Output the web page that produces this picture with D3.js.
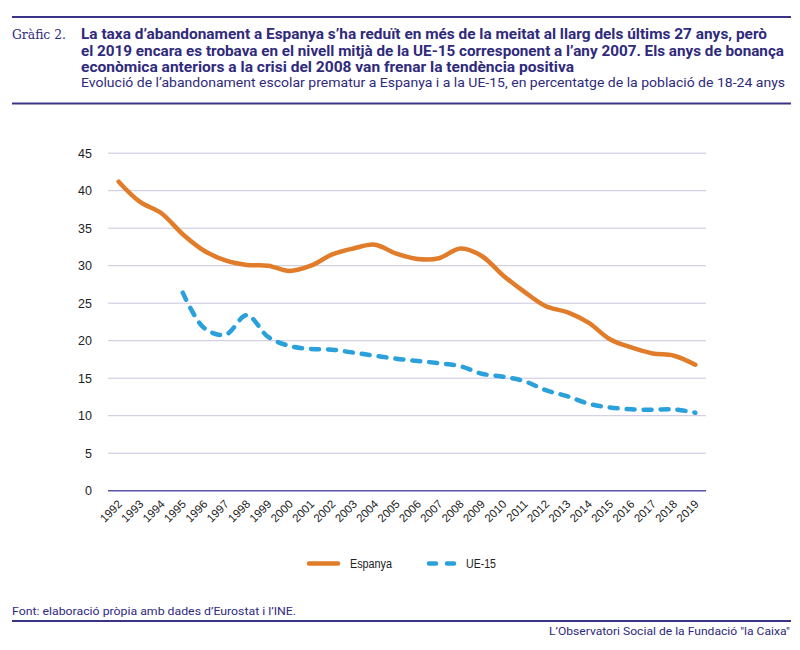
<!DOCTYPE html>
<html><head><meta charset="utf-8">
<script src="https://cdn.jsdelivr.net/npm/d3@7"></script>
<style>body{margin:0;background:#fff}svg{display:block}</style>
</head><body>
<svg id="c" width="800" height="650"></svg>
<script>
const years = [1992,1993,1994,1995,1996,1997,1998,1999,2000,2001,2002,2003,2004,2005,2006,2007,2008,2009,2010,2011,2012,2013,2014,2015,2016,2017,2018,2019];
const espanya = [41.2,38.5,37.0,34.2,32.0,30.7,30.1,30.0,29.3,30.0,31.5,32.3,32.8,31.6,30.9,31.0,32.3,31.3,28.7,26.5,24.6,23.8,22.4,20.2,19.1,18.3,18.0,16.8];
const ue15 = [null,null,null,26.4,21.7,20.8,23.4,20.5,19.3,18.9,18.8,18.4,18.0,17.6,17.3,17.0,16.6,15.6,15.2,14.6,13.4,12.6,11.6,11.1,10.85,10.8,10.85,10.4];
const yTicks = [0,5,10,15,20,25,30,35,40,45];
const seriesNames = ["Espanya","UE-15"];
const colors = ["#E17D2A","#2AA1DB"];

const svg = d3.select("#c");
const navy = "#2F2A7C";

// header
svg.append("line").attr("x1",12).attr("x2",791).attr("y1",17).attr("y2",17).attr("stroke","#3B3486").attr("stroke-width",2);
svg.append("line").attr("x1",12).attr("x2",791).attr("y1",103.5).attr("y2",103.5).attr("stroke","#3B3486").attr("stroke-width",2);
svg.append("text").attr("x",12).attr("y",39).attr("font-family","DejaVu Serif, serif").attr("font-size",13.5)
  .attr("fill",navy).attr("textLength",54).attr("lengthAdjust","spacingAndGlyphs").text("Gràfic 2.");
const titleLines = [
  ["La taxa d’abandonament a Espanya s’ha reduït en més de la meitat al llarg dels últims 27 anys, però",39.3,686],
  ["el 2019 encara es trobava en el nivell mitjà de la UE-15 corresponent a l’any 2007. Els anys de bonança",55.5,703],
  ["econòmica anteriors a la crisi del 2008 van frenar la tendència positiva",71.8,493]
];
titleLines.forEach(([t,y,w])=>{
  svg.append("text").attr("x",81).attr("y",y).attr("font-family","Roboto, sans-serif").attr("font-weight","bold")
    .attr("font-size",14).attr("fill",navy).attr("textLength",w).attr("lengthAdjust","spacingAndGlyphs").text(t);
});
svg.append("text").attr("x",81).attr("y",87).attr("font-family","Roboto, sans-serif")
  .attr("font-size",13.5).attr("fill",navy).attr("textLength",704).attr("lengthAdjust","spacingAndGlyphs")
  .text("Evolució de l’abandonament escolar prematur a Espanya i a la UE-15, en percentatge de la població de 18-24 anys");

// scales
const x = d3.scaleBand().domain(years).range([108,706]);
const cx = d => x(d) + x.bandwidth()/2;
const y = d3.scaleLinear().domain([0,45]).range([490.7,153.2]);

// grid
svg.append("g").selectAll("line").data(yTicks.filter(d=>d>0)).join("line")
  .attr("x1",108).attr("x2",706).attr("y1",d=>y(d)).attr("y2",d=>y(d))
  .attr("stroke","#C9C6DE").attr("stroke-width",1);
svg.append("line").attr("x1",108).attr("x2",706).attr("y1",y(0)).attr("y2",y(0)).attr("stroke","#5B56AA").attr("stroke-width",1.5);

// y axis labels
const yAxis = d3.axisLeft(y).tickValues(yTicks).tickSize(0).tickPadding(0);
const gy = svg.append("g").attr("transform","translate(92,0)").call(yAxis);
gy.select(".domain").remove();
gy.selectAll("text").attr("font-family","Liberation Sans, Arial, sans-serif").attr("font-size",12.5).attr("fill","#222");

// x axis labels
const xAxis = d3.axisBottom(x).tickSize(0).tickPadding(0);
const gx = svg.append("g").attr("transform",`translate(0,${y(0)})`).call(xAxis);
gx.select(".domain").remove();
gx.selectAll(".tick text").attr("font-family","Liberation Sans, Arial, sans-serif").attr("font-size",11.5).attr("fill","#222")
  .attr("text-anchor","end").attr("dy",null).attr("y",0)
  .attr("transform","translate(2,12) rotate(-45)").attr("dominant-baseline","middle");

// lines
const line = d3.line().defined(d=>d[1]!=null).x(d=>cx(d[0])).y(d=>y(d[1])).curve(d3.curveCatmullRom.alpha(0.5));
svg.append("path").datum(years.map((yr,i)=>[yr,espanya[i]])).attr("d",line)
  .attr("fill","none").attr("stroke",colors[0]).attr("stroke-width",4.5).attr("stroke-linecap","round");
svg.append("path").datum(years.map((yr,i)=>[yr,ue15[i]]).filter(d=>d[1]!=null)).attr("d",line)
  .attr("fill","none").attr("stroke",colors[1]).attr("stroke-width",4.5).attr("stroke-linecap","round")
  .attr("stroke-dasharray","8,9");

// legend
const lg = svg.append("g");
lg.append("line").attr("x1",309).attr("x2",338).attr("y1",563.5).attr("y2",563.5).attr("stroke",colors[0]).attr("stroke-width",4.5).attr("stroke-linecap","round");
lg.append("text").attr("x",350).attr("y",563.5).attr("dominant-baseline","central").attr("font-family","Liberation Sans, Arial, sans-serif")
  .attr("font-size",12).attr("fill","#222").attr("textLength",42).attr("lengthAdjust","spacingAndGlyphs").text(seriesNames[0]);
lg.append("line").attr("x1",429).attr("x2",454).attr("y1",563.5).attr("y2",563.5).attr("stroke",colors[1]).attr("stroke-width",4.5).attr("stroke-linecap","round").attr("stroke-dasharray","7,11");
lg.append("text").attr("x",466).attr("y",563.5).attr("dominant-baseline","central").attr("font-family","Liberation Sans, Arial, sans-serif")
  .attr("font-size",12).attr("fill","#222").attr("textLength",30).attr("lengthAdjust","spacingAndGlyphs").text(seriesNames[1]);

// footer
svg.append("text").attr("x",12).attr("y",615).attr("font-family","Roboto, sans-serif").attr("font-size",11.5).attr("fill",navy)
  .attr("textLength",284).attr("lengthAdjust","spacingAndGlyphs").text("Font: elaboració pròpia amb dades d’Eurostat i l’INE.");
svg.append("line").attr("x1",12).attr("x2",791).attr("y1",621).attr("y2",621).attr("stroke","#3B3486").attr("stroke-width",2);
svg.append("text").attr("x",790).attr("y",635).attr("text-anchor","end").attr("font-family","Roboto, sans-serif").attr("font-size",11.5).attr("fill",navy)
  .attr("textLength",241).attr("lengthAdjust","spacingAndGlyphs").text("L’Observatori Social de la Fundació \"la Caixa\"");
</script>
</body></html>
